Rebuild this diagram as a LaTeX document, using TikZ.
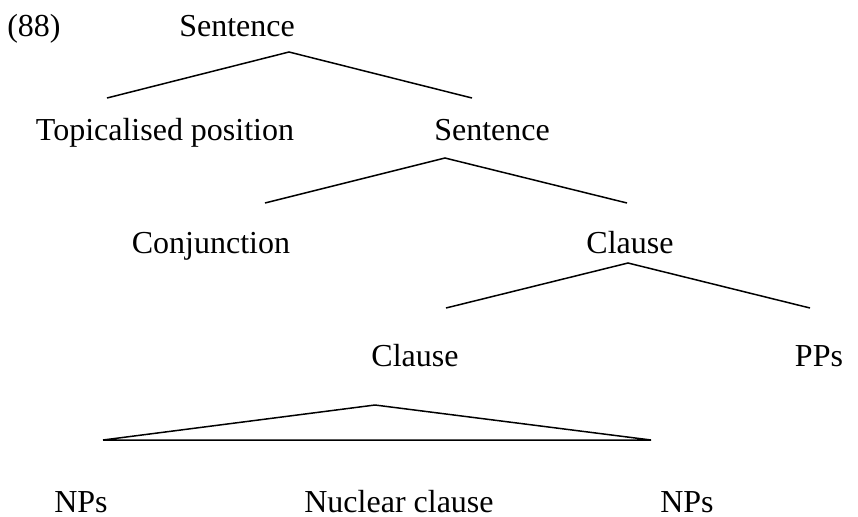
\documentclass[tikz,border=0pt]{standalone}
\usepackage{fontspec}
\setmainfont{Liberation Serif}
\tikzset{lbl/.style={anchor=base,inner sep=0pt,font=\fontsize{16}{19}\selectfont}}

\begin{document}
\begin{tikzpicture}[x=0.5pt,y=-0.5pt,line width=0.75pt]
		\useasboundingbox (0,0) rectangle (858,516);
		\node(ex) at (34,36)[lbl]{(88)};
		\node(s1) at (237,36)[lbl]{Sentence};
		\node(top) at (165,140)[lbl]{Topicalised position};
		\node(s2) at (492,140)[lbl]{Sentence};
		\node(conj) at (211,253)[lbl]{Conjunction};
		\node(c1) at (630,253)[lbl]{Clause};
		\node(c2) at (415,366)[lbl]{Clause};
		\node(pp) at (819,366)[lbl]{PPs};
		\node(np1) at (81,512)[lbl]{NPs};
		\node(nuc) at (399,512)[lbl]{Nuclear clause};
		\node(np2) at (687,512)[lbl]{NPs};
		
		\coordinate(a1) at (289,52);  \coordinate(l1) at (107,98);  \coordinate(r1) at (472,98);
		\coordinate(a2) at (445,158); \coordinate(l2) at (265,203); \coordinate(r2) at (627,203);
		\coordinate(a3) at (628,263); \coordinate(l3) at (446,308); \coordinate(r3) at (810,308);
		\coordinate(a4) at (375,405); \coordinate(l4) at (103,440); \coordinate(r4) at (651,440);
		
		\draw (l1) to (a1) to (r1);
		\draw (l2) to (a2) to (r2);
		\draw (l3) to (a3) to (r3);
		\draw (l4) to (a4) to (r4) to (l4);
	\end{tikzpicture}
\end{document}
